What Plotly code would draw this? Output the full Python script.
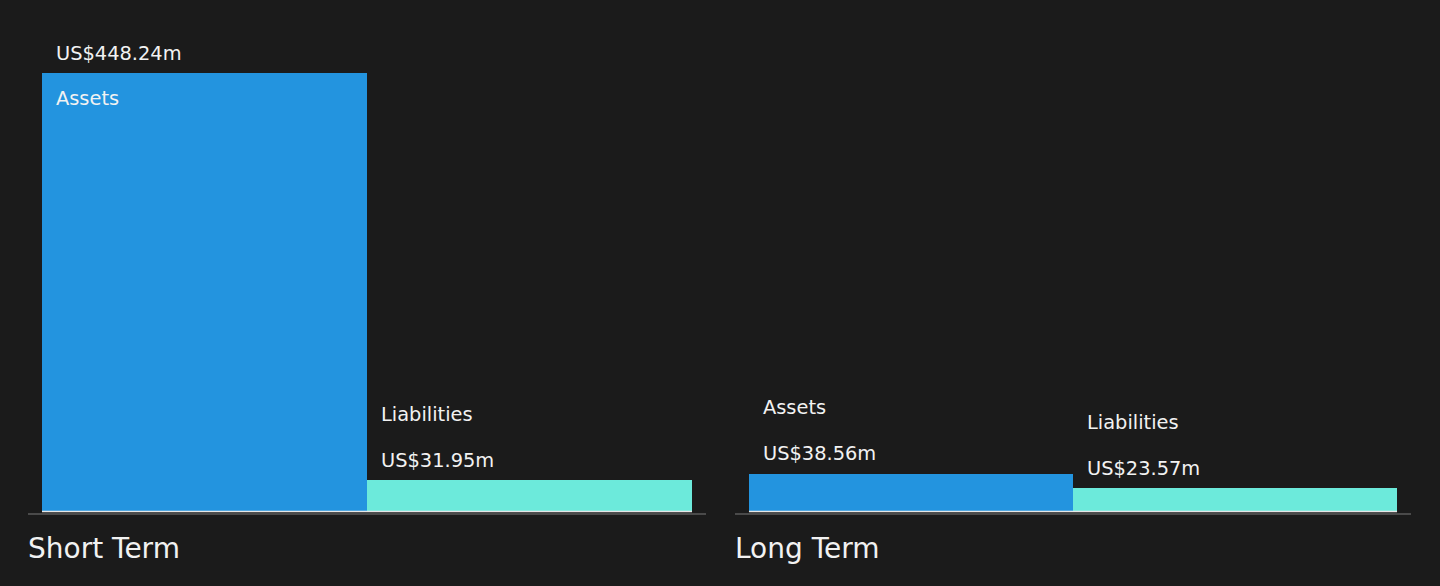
import plotly.graph_objects as go

# ---- data ----
panels = ["Short Term", "Long Term"]
categories = ["Assets", "Liabilities"]
short_term_values = [448.24, 31.95]
long_term_values = [38.56, 23.57]
value_labels_short = ["US$448.24m", "US$31.95m"]
value_labels_long = ["US$38.56m", "US$23.57m"]

colors = ["#2394df", "#6ceadb"]
BG = "#1b1b1b"
TEXT = "#f2f2f2"
FONT = "DejaVu Sans"

W, H = 1440, 586
plot_bottom_px = 513
dom1 = (28 / W, 706 / W)
dom2 = (735 / W, 1411 / W)

px_per_unit = 438 / 448.24
y_span = plot_bottom_px / px_per_unit
y_low = -1.6
yr = [y_low, y_low + y_span]

fig = go.Figure()

series = [short_term_values, long_term_values]
labels = [value_labels_short, value_labels_long]
xaxes = ["x", "x2"]
doms = [dom1, dom2]
all_max = max(max(s) for s in series)

annotations = []
shapes = []
for p, (vals, labs, xa, dom) in enumerate(zip(series, labels, xaxes, doms)):
    xs = list(range(len(categories)))
    fig.add_trace(go.Bar(
        x=xs, y=vals, width=1, xaxis=xa, yaxis="y" if p == 0 else "y2",
        marker=dict(color=colors, line=dict(width=0)),
        hoverinfo="skip", showlegend=False,
    ))
    yref = "y" if p == 0 else "y2"
    for i, (v, lab, cat) in enumerate(zip(vals, labs, categories)):
        annotations.append(dict(
            x=i - 0.5, y=v, xref=xa, yref=yref, text=lab, showarrow=False,
            xanchor="left", yanchor="middle", xshift=12, yshift=20,
            font=dict(family=FONT, size=19.4, color=TEXT),
        ))
        if v == all_max:
            name_shift = -25
        else:
            name_shift = 66
        annotations.append(dict(
            x=i - 0.5, y=v, xref=xa, yref=yref, text=cat, showarrow=False,
            xanchor="left", yanchor="middle", xshift=12, yshift=name_shift,
            font=dict(family=FONT, size=19.4, color=TEXT),
        ))
    shapes.append(dict(
        type="line", xref=xa, yref=yref, x0=-0.5, x1=len(categories) - 0.5,
        y0=0, y1=0, line=dict(color="#e6e6e6", width=1.5), layer="above",
    ))
    annotations.append(dict(
        x=dom[0], y=0, xref="paper", yref="paper", text=panels[p], showarrow=False,
        xanchor="left", yanchor="middle", xshift=-2, yshift=-35,
        font=dict(family=FONT, size=28, color=TEXT),
    ))

pad = 14 / 325
xaxis_common = dict(
    range=[-0.5 - pad, len(categories) - 0.5 + pad], showgrid=False, zeroline=False,
    showticklabels=False, ticks="", showline=True, linecolor="#4a4a4a", linewidth=1.5,
    fixedrange=True,
)
yaxis_common = dict(range=yr, showgrid=False, zeroline=False, showticklabels=False,
                    ticks="", showline=False, domain=[0, 1], fixedrange=True)

fig.update_layout(
    width=W, height=H,
    paper_bgcolor=BG, plot_bgcolor=BG,
    margin=dict(l=0, r=0, t=0, b=H - plot_bottom_px),
    bargap=0,
    xaxis=dict(domain=list(dom1), anchor="y", **xaxis_common),
    xaxis2=dict(domain=list(dom2), anchor="y2", **xaxis_common),
    yaxis=dict(anchor="x", **yaxis_common),
    yaxis2=dict(anchor="x2", **yaxis_common),
    annotations=annotations,
    shapes=shapes,
    font=dict(family=FONT, color=TEXT),
)

fig.write_html(
    "out.html",
    config={"displayModeBar": False},
    post_script="document.body.style.margin='0';document.body.style.background='#1b1b1b';",
)
